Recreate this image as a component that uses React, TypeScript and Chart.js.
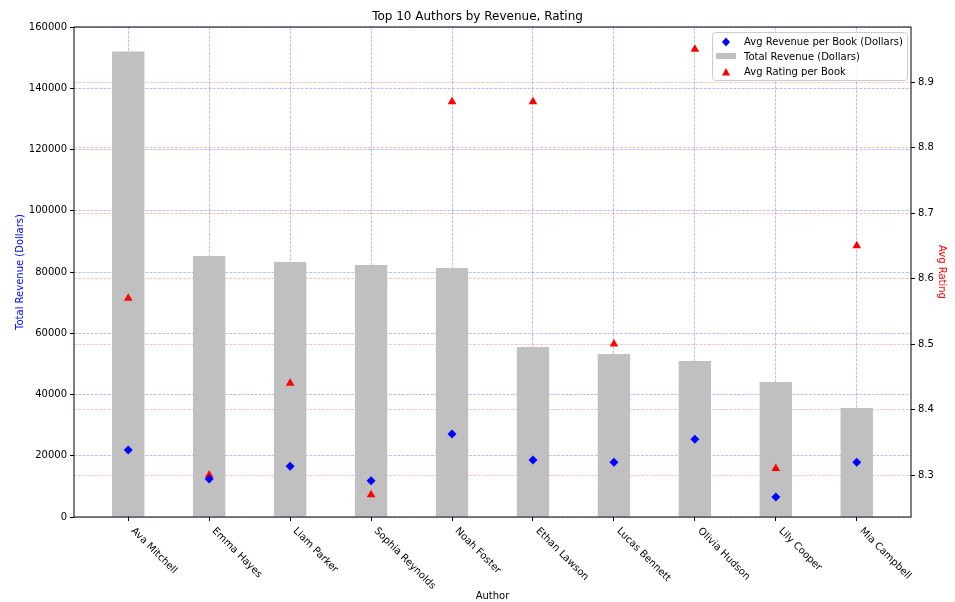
import { useEffect, useRef } from 'react';
import { Chart, registerables, type Plugin } from 'chart.js';

Chart.register(...registerables);
Chart.defaults.font.family = '"DejaVu Sans", sans-serif';

const authors = [
  'Ava Mitchell',
  'Emma Hayes',
  'Liam Parker',
  'Sophia Reynolds',
  'Noah Foster',
  'Ethan Lawson',
  'Lucas Bennett',
  'Olivia Hudson',
  'Lily Cooper',
  'Mia Campbell',
];
const totalRevenue = [152000, 85200, 83300, 82300, 81300, 55500, 53200, 50900, 44100, 35600];
const avgRevenuePerBook = [21900, 12400, 16600, 11800, 27100, 18600, 17900, 25400, 6500, 17900];
const avgRating = [8.57, 8.3, 8.44, 8.27, 8.87, 8.87, 8.5, 8.95, 8.31, 8.65];
const revenueTicks = [0, 20000, 40000, 60000, 80000, 100000, 120000, 140000, 160000];
const ratingTicks = [8.3, 8.4, 8.5, 8.6, 8.7, 8.8, 8.9];

const BLUE_GRID = 'rgba(0, 0, 255, 0.32)';
const RED_GRID = 'rgba(255, 0, 0, 0.3)';

// black frame round the plot, like the matplotlib spines
const framePlugin: Plugin = {
  id: 'frame',
  afterDraw(chart) {
    const { ctx, chartArea: a } = chart;
    ctx.save();
    ctx.strokeStyle = '#000';
    ctx.lineWidth = 1;
    ctx.strokeRect(a.left, a.top, a.right - a.left, a.bottom - a.top);
    ctx.restore();
  },
};

// x tick labels rotated clockwise, starting at the tick
const authorLabels: Plugin = {
  id: 'authorLabels',
  afterDraw(chart) {
    const { ctx, chartArea } = chart;
    const xScale = chart.scales.x;
    ctx.save();
    ctx.font = '10px "DejaVu Sans"';
    ctx.fillStyle = '#000';
    ctx.textAlign = 'left';
    ctx.textBaseline = 'top';
    authors.forEach((name, i) => {
      const px = xScale.getPixelForValue(i);
      ctx.save();
      ctx.translate(px + 8, chartArea.bottom + 9);
      ctx.rotate(Math.PI / 4);
      ctx.fillText(name, 0, 0);
      ctx.restore();
    });
    ctx.restore();
  },
};

// legend inside the plot, upper right
const legendBox: Plugin = {
  id: 'legendBox',
  afterDraw(chart) {
    const { ctx, chartArea } = chart;
    const w = 195;
    const h = 48;
    const left = chartArea.right - 4 - w;
    const top = chartArea.top + 5;
    ctx.save();
    ctx.beginPath();
    ctx.roundRect(left + 0.5, top + 0.5, w, h, 3);
    ctx.fillStyle = 'rgba(255,255,255,0.8)';
    ctx.fill();
    ctx.strokeStyle = '#cccccc';
    ctx.lineWidth = 1;
    ctx.stroke();

    const mx = left + 14;
    // diamond
    let cy = top + 10;
    ctx.fillStyle = '#0000ff';
    ctx.beginPath();
    ctx.moveTo(mx, cy - 4.5);
    ctx.lineTo(mx + 4, cy);
    ctx.lineTo(mx, cy + 4.5);
    ctx.lineTo(mx - 4, cy);
    ctx.closePath();
    ctx.fill();
    // gray patch
    cy = top + 24;
    ctx.fillStyle = '#c0c0c0';
    ctx.fillRect(mx - 10, cy - 3, 20, 6);
    // triangle
    cy = top + 40;
    ctx.fillStyle = '#ff0000';
    ctx.beginPath();
    ctx.moveTo(mx, cy - 4);
    ctx.lineTo(mx + 4, cy + 3.5);
    ctx.lineTo(mx - 4, cy + 3.5);
    ctx.closePath();
    ctx.fill();

    ctx.fillStyle = '#000';
    ctx.font = '10px "DejaVu Sans"';
    ctx.textAlign = 'left';
    ctx.textBaseline = 'middle';
    ctx.fillText('Avg Revenue per Book (Dollars)', left + 32, top + 10);
    ctx.fillText('Total Revenue (Dollars)', left + 32, top + 25);
    ctx.fillText('Avg Rating per Book', left + 32, top + 40);
    ctx.restore();
  },
};

export default function App() {
  const canvasRef = useRef<HTMLCanvasElement>(null);

  useEffect(() => {
    if (!canvasRef.current) return;

    const chart = new Chart(canvasRef.current, {
      type: 'bar',
      data: {
        datasets: [
          {
            type: 'scatter',
            label: 'Avg Revenue per Book (Dollars)',
            data: authors.map((_, i) => ({ x: i, y: avgRevenuePerBook[i] })),
            xAxisID: 'x',
            yAxisID: 'y',
            pointStyle: 'rectRot',
            radius: 4.5,
            backgroundColor: '#0000ff',
            borderColor: '#0000ff',
            borderWidth: 0,
            order: 1,
          },
          {
            type: 'scatter',
            label: 'Avg Rating per Book',
            data: authors.map((_, i) => ({ x: i, y: avgRating[i] })),
            xAxisID: 'x',
            yAxisID: 'y1',
            pointStyle: 'triangle',
            radius: 5,
            backgroundColor: '#ff0000',
            borderColor: '#ff0000',
            borderWidth: 0,
            order: 2,
          },
          {
            type: 'bar',
            label: 'Total Revenue (Dollars)',
            data: authors.map((_, i) => ({ x: i, y: totalRevenue[i] })),
            xAxisID: 'x',
            yAxisID: 'y',
            backgroundColor: '#c0c0c0',
            barPercentage: 0.4,
            categoryPercentage: 1,
            order: 3,
          },
        ],
      },
      options: {
        animation: false,
        responsive: true,
        maintainAspectRatio: false,
        layout: { padding: 0 },
        plugins: {
          legend: { display: false },
          tooltip: { enabled: false },
          title: {
            display: true,
            text: 'Top 10 Authors by Revenue, Rating',
            color: '#000',
            font: { size: 12, weight: 'normal' },
            padding: { top: 10, bottom: 2.6 },
          },
        },
        scales: {
          x: {
            type: 'linear',
            min: -0.67,
            max: 9.67,
            offset: false,
            afterBuildTicks: (s: any) => {
              s.ticks = authors.map((_, i) => ({ value: i }));
            },
            afterFit: (s: any) => {
              s.height = 85;
            },
            ticks: { display: false },
            grid: {
              offset: false,
              color: BLUE_GRID,
              lineWidth: 0.8,
              tickColor: '#000',
              tickLength: 4,
              tickWidth: 1,
            },
            border: { display: false, dash: [3, 1.2] },
            title: { display: true, text: 'Author', color: '#000', font: { size: 10 }, padding: 0 },
            z: 1,
          },
          y: {
            type: 'linear',
            position: 'left',
            min: 0,
            max: 160000,
            afterBuildTicks: (s: any) => {
              s.ticks = revenueTicks.map(v => ({ value: v }));
            },
            afterFit: (s: any) => {
              s.width = 74;
            },
            ticks: { color: '#000', font: { size: 10 }, padding: 3, callback: v => String(v) },
            grid: { color: BLUE_GRID, lineWidth: 0.8, tickColor: '#000', tickLength: 4, tickWidth: 1 },
            border: { display: false, dash: [3, 1.2] },
            title: {
              display: true,
              text: 'Total Revenue (Dollars)',
              color: '#0000ff',
              font: { size: 10 },
              padding: { top: 14, bottom: 0 },
            },
            z: 1,
          },
          y1: {
            type: 'linear',
            position: 'right',
            min: 8.236,
            max: 8.984,
            afterBuildTicks: (s: any) => {
              s.ticks = ratingTicks.map(v => ({ value: v }));
            },
            afterFit: (s: any) => {
              s.width = 44;
            },
            ticks: { color: '#000', font: { size: 10 }, padding: 3, callback: v => Number(v).toFixed(1) },
            grid: { color: RED_GRID, lineWidth: 0.8, tickColor: '#000', tickLength: 4, tickWidth: 1 },
            border: { display: false, dash: [3, 1.2] },
            title: {
              display: true,
              text: 'Avg Rating',
              color: '#ff0000',
              font: { size: 10 },
              padding: { top: 7, bottom: 0 },
            },
            z: 1,
          },
        },
      },
      plugins: [framePlugin, authorLabels, legendBox],
    });

    return () => {
      chart.destroy();
    };
  }, []);

  return (
    <div style={{ position: 'absolute', left: 0, top: 0, width: 955, height: 602, background: '#fff' }}>
      <canvas ref={canvasRef} />
    </div>
  );
}
